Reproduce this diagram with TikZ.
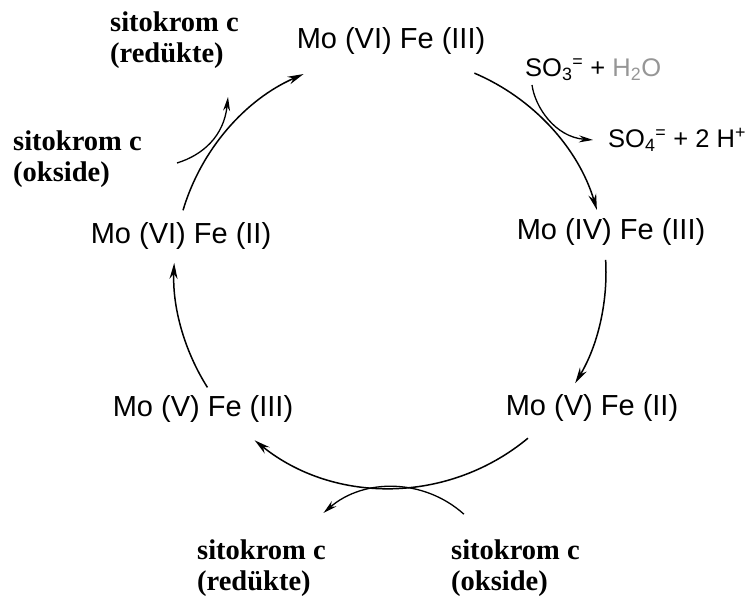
\documentclass[tikz,border=0pt]{standalone}
\usepackage{fontspec}
\setmainfont{Liberation Serif}
\setsansfont{Liberation Sans}
\usepackage{tikz}
\usetikzlibrary{arrows.meta,positioning,calc}
\definecolor{waterGray}{RGB}{150,150,150}
\tikzset{
  cycln/.style={-{Stealth[length=16pt,width=8pt]}, line width=1.5pt},
  sideln/.style={-{Stealth[length=14pt,width=7pt]}, line width=1.3pt},
  statelbl/.style={font=\sffamily\fontsize{29}{34}\selectfont, inner sep=0pt},
  cytlbl/.style={font=\bfseries\fontsize{28.5}{31}\selectfont, align=left,
    inner sep=0pt, anchor=west},
  ionlbl/.style={font=\sffamily\fontsize{25.5}{28}\selectfont, inner sep=0pt,
    anchor=west},
}

\begin{document}
\begin{tikzpicture}[x=1pt,y=1pt]
    \useasboundingbox (0,0) rectangle (752,604);
    % redox states of the enzyme
    \node[statelbl] (vi3) at (391,563) {Mo (VI) Fe (III)};
    \node[statelbl] (iv3) at (611,372) {Mo (IV) Fe (III)};
    \node[statelbl] (v2)  at (592,196) {Mo (V) Fe (II)};
    \node[statelbl] (v3)  at (203,195) {Mo (V) Fe (III)};
    \node[statelbl] (vi2) at (181,368) {Mo (VI) Fe (II)};
    % substrates and products
    \node[ionlbl] (so3) at (525,534)
      {SO\textsubscript{3}\textsuperscript{=} + \textcolor{waterGray}{H\textsubscript{2}O}};
    \node[ionlbl] (so4) at (608,464)
      {SO\textsubscript{4}\textsuperscript{=} + 2 H\textsuperscript{+}};
    \node[cytlbl] (redA) at (110,564) {sitokrom c\\(redükte)};
    \node[cytlbl] (oxA)  at (13,445)  {sitokrom c\\(okside)};
    \node[cytlbl] (redB) at (197,36)  {sitokrom c\\(redükte)};
    \node[cytlbl] (oxB)  at (451,36)  {sitokrom c\\(okside)};
    % the cycle
    \coordinate (O) at (390,332);
    \draw[cycln] (O) ++(163.4:216) arc[start angle=163.4, end angle=113.6, radius=216];
    \draw[cycln] (O) ++(67:216) arc[start angle=67, end angle=16.7, radius=216];
    \draw[cycln] (O) ++(3.2:216) arc[start angle=3.2, end angle=-31, radius=216];
    \draw[cycln] (O) ++(-50.3:216) arc[start angle=-50.3, end angle=-128.8, radius=216];
    \draw[cycln] (O) ++(212.3:216) arc[start angle=212.3, end angle=177.6, radius=216];
    % side reactions
    \coordinate (oxAin) at (177,441);
    \coordinate (redAout) at (228,507);
    \draw[sideln] (oxAin) .. controls (203,449) and (224,468) .. (redAout);
    \coordinate (so3in) at (532,519);
    \coordinate (so4out) at (593,464);
    \draw[sideln] (so3in) .. controls (535,497) and (555,467) .. (so4out);
    \coordinate (B) at (393,11);
    \draw[sideln] (B) ++(48:106) arc[start angle=48, end angle=131, radius=106];
\end{tikzpicture}
\end{document}
